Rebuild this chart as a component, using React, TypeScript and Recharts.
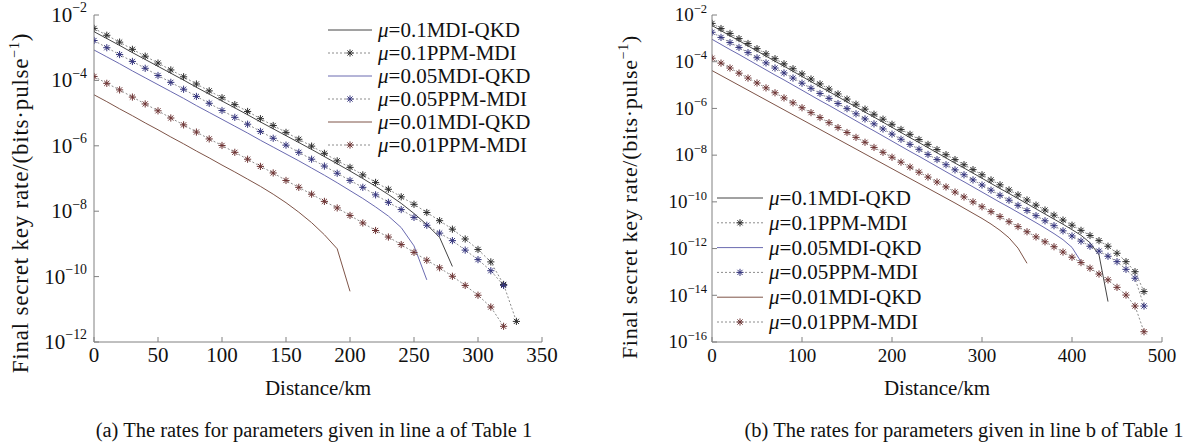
import React from "react";
import { LineChart, Line, XAxis, YAxis, Legend } from "recharts";

const FONT = '"Liberation Serif", "Times New Roman", serif';
const FRAME = "#808080";
const TICK = 5;

// distance grid, km (one point every 10 km)
const distA = [0, 10, 20, 30, 40, 50, 60, 70, 80, 90, 100, 110, 120, 130, 140, 150, 160, 170, 180, 190, 200, 210, 220, 230, 240, 250, 260, 270, 280, 290, 300, 310, 320, 330];
const distB = [0, 10, 20, 30, 40, 50, 60, 70, 80, 90, 100, 110, 120, 130, 140, 150, 160, 170, 180, 190, 200, 210, 220, 230, 240, 250, 260, 270, 280, 290, 300, 310, 320, 330, 340, 350, 360, 370, 380, 390, 400, 410, 420, 430, 440, 450, 460, 470, 480];

// as log10(rate), one per distance
const expA_mdi01 = [-2.51, -2.72, -2.93, -3.15, -3.36, -3.57, -3.78, -3.99, -4.21, -4.42, -4.63, -4.84, -5.05, -5.27, -5.48, -5.69, -5.9, -6.11, -6.33, -6.55, -6.77, -7.0, -7.24, -7.49, -7.76, -8.07, -8.41, -8.8, -9.69];
const expA_ppm01 = [-2.41, -2.62, -2.83, -3.05, -3.26, -3.47, -3.68, -3.89, -4.11, -4.32, -4.53, -4.74, -4.95, -5.17, -5.38, -5.59, -5.8, -6.01, -6.23, -6.46, -6.66, -6.89, -7.12, -7.33, -7.56, -7.79, -8.04, -8.29, -8.55, -8.85, -9.17, -9.55, -10.24, -11.37];
const expA_mdi005 = [-3.07, -3.28, -3.49, -3.71, -3.92, -4.13, -4.34, -4.55, -4.77, -4.98, -5.19, -5.4, -5.61, -5.83, -6.04, -6.25, -6.46, -6.68, -6.9, -7.13, -7.37, -7.61, -7.87, -8.15, -8.5, -9.06, -10.1];
const expA_ppm005 = [-2.78, -3.0, -3.21, -3.42, -3.63, -3.85, -4.06, -4.27, -4.49, -4.7, -4.92, -5.13, -5.34, -5.56, -5.77, -5.98, -6.2, -6.41, -6.62, -6.84, -7.06, -7.27, -7.5, -7.73, -7.95, -8.19, -8.43, -8.67, -8.9, -9.19, -9.48, -9.82, -10.27];
const expA_mdi001 = [-4.44, -4.65, -4.87, -5.08, -5.3, -5.51, -5.73, -5.94, -6.16, -6.37, -6.59, -6.8, -7.02, -7.24, -7.48, -7.74, -8.03, -8.35, -8.72, -9.15, -10.45];
const expA_ppm001 = [-3.88, -4.09, -4.29, -4.51, -4.72, -4.93, -5.15, -5.36, -5.58, -5.79, -5.99, -6.2, -6.41, -6.63, -6.83, -7.06, -7.27, -7.48, -7.7, -7.9, -8.13, -8.36, -8.59, -8.79, -9.02, -9.26, -9.5, -9.73, -9.99, -10.27, -10.57, -10.93, -11.52];

const expB_mdi01 = [-2.45, -2.67, -2.89, -3.1, -3.32, -3.54, -3.76, -3.98, -4.19, -4.41, -4.63, -4.85, -5.07, -5.28, -5.5, -5.72, -5.94, -6.16, -6.37, -6.59, -6.81, -7.03, -7.25, -7.46, -7.68, -7.9, -8.12, -8.34, -8.55, -8.77, -8.99, -9.21, -9.43, -9.64, -9.86, -10.08, -10.3, -10.52, -10.74, -10.96, -11.19, -11.43, -11.75, -12.27, -14.27];
const expB_ppm01 = [-2.36, -2.58, -2.79, -3.01, -3.22, -3.44, -3.66, -3.87, -4.09, -4.3, -4.52, -4.74, -4.95, -5.17, -5.38, -5.6, -5.82, -6.03, -6.25, -6.46, -6.68, -6.9, -7.11, -7.33, -7.54, -7.76, -7.98, -8.19, -8.41, -8.62, -8.84, -9.06, -9.27, -9.49, -9.7, -9.92, -10.14, -10.35, -10.57, -10.78, -11.0, -11.22, -11.44, -11.66, -11.9, -12.2, -12.56, -12.99, -13.84];
const expB_mdi005 = [-3.04, -3.26, -3.48, -3.69, -3.91, -4.13, -4.35, -4.57, -4.78, -5.0, -5.22, -5.44, -5.66, -5.87, -6.09, -6.31, -6.53, -6.75, -6.96, -7.18, -7.4, -7.62, -7.84, -8.05, -8.27, -8.49, -8.71, -8.93, -9.14, -9.36, -9.58, -9.8, -10.02, -10.23, -10.45, -10.67, -10.89, -11.12, -11.36, -11.62, -11.95, -12.56];
const expB_ppm005 = [-2.74, -2.96, -3.18, -3.39, -3.61, -3.83, -4.05, -4.27, -4.48, -4.7, -4.92, -5.14, -5.36, -5.57, -5.79, -6.01, -6.23, -6.45, -6.66, -6.88, -7.1, -7.32, -7.54, -7.75, -7.97, -8.19, -8.41, -8.63, -8.84, -9.06, -9.28, -9.5, -9.72, -9.93, -10.15, -10.37, -10.59, -10.81, -11.02, -11.24, -11.46, -11.68, -11.9, -12.11, -12.33, -12.56, -12.89, -13.27, -14.46];
const expB_mdi001 = [-4.38, -4.59, -4.8, -5.01, -5.22, -5.43, -5.64, -5.85, -6.06, -6.27, -6.48, -6.69, -6.9, -7.11, -7.32, -7.53, -7.74, -7.95, -8.16, -8.37, -8.58, -8.79, -9.0, -9.21, -9.42, -9.63, -9.84, -10.05, -10.27, -10.49, -10.71, -10.95, -11.22, -11.54, -11.98, -12.63];
const expB_ppm001 = [-3.85, -4.06, -4.27, -4.49, -4.7, -4.91, -5.12, -5.33, -5.55, -5.76, -5.97, -6.18, -6.39, -6.61, -6.82, -7.03, -7.24, -7.45, -7.67, -7.88, -8.09, -8.3, -8.51, -8.73, -8.94, -9.15, -9.36, -9.58, -9.79, -10.0, -10.21, -10.42, -10.63, -10.85, -11.06, -11.28, -11.5, -11.71, -11.92, -12.15, -12.37, -12.6, -12.84, -13.09, -13.34, -13.66, -13.99, -14.46, -15.56];

const xTicksA = [0, 50, 100, 150, 200, 250, 300, 350];
const xTicksB = [0, 100, 200, 300, 400, 500];
const yTicksA = [1e-12, 1e-10, 1e-8, 1e-6, 1e-4, 1e-2];
const yTicksB = [1e-16, 1e-14, 1e-12, 1e-10, 1e-8, 1e-6, 1e-4, 1e-2];

const mus = ["0.1", "0.1", "0.05", "0.05", "0.01", "0.01"];
const kinds = ["MDI-QKD", "PPM-MDI", "MDI-QKD", "PPM-MDI", "MDI-QKD", "PPM-MDI"];
const lineColors = ["#444444", "#8c8c8c", "#6a6ab0", "#8c8c8c", "#7e5448", "#8c8c8c"];
const starColors = ["", "#2e2e2e", "", "#35357e", "", "#6e3434"];

const makeSeries = (exps: number[][]) =>
  exps.map((e, i) => ({
    key: `s${i}`,
    mu: mus[i],
    kind: kinds[i],
    color: lineColors[i],
    star: starColors[i],
    exps: e,
  }));

const seriesA = makeSeries([expA_mdi01, expA_ppm01, expA_mdi005, expA_ppm005, expA_mdi001, expA_ppm001]);
const seriesB = makeSeries([expB_mdi01, expB_ppm01, expB_mdi005, expB_ppm005, expB_mdi001, expB_ppm001]);

const buildRows = (dist: number[], series: any[]) =>
  dist.map((d, i) => {
    const row: any = { d };
    series.forEach((s) => {
      row[s.key] = i < s.exps.length ? Math.pow(10, s.exps[i]) : undefined;
    });
    return row;
  });

const rowsA = buildRows(distA, seriesA);
const rowsB = buildRows(distB, seriesB);

const txt = (size: number, extra: React.CSSProperties = {}): React.CSSProperties => ({
  fontFamily: FONT,
  fontSize: size,
  ...extra,
});

const Star = ({ cx, cy, color, r = 3.6 }: any) => {
  const q = r * 0.72;
  return (
    <g stroke={color} strokeWidth={1} fill="none">
      <line x1={cx - r} y1={cy} x2={cx + r} y2={cy} />
      <line x1={cx} y1={cy - r} x2={cx} y2={cy + r} />
      <line x1={cx - q} y1={cy - q} x2={cx + q} y2={cy + q} />
      <line x1={cx - q} y1={cy + q} x2={cx + q} y2={cy - q} />
    </g>
  );
};

const starDot = (color: string) => (p: any) => {
  const { cx, cy, index } = p;
  if (cx == null || cy == null || isNaN(cy)) return <g key={`n${index}`} />;
  return (
    <g key={`d${index}`}>
      <Star cx={cx} cy={cy} color={color} />
    </g>
  );
};

const makeBottomTick = (fontSize: number) => ({ x, y, payload }: any) => (
  <g>
    <line x1={x} y1={y} x2={x} y2={y - TICK} stroke={FRAME} />
    <text x={x} y={y + 20} textAnchor="middle" fill="#111" style={txt(fontSize)}>
      {payload.value}
    </text>
  </g>
);

const TopTick = ({ x, y }: any) => <line x1={x} y1={y} x2={x} y2={y + TICK} stroke={FRAME} />;
const RightTick = ({ x, y }: any) => <line x1={x} y1={y} x2={x - TICK} y2={y} stroke={FRAME} />;

const makeLeftTick = (fontSize: number, gap: number) => ({ x, y, payload }: any) => {
  const e = Math.round(Math.log10(payload.value));
  return (
    <g>
      <line x1={x} y1={y} x2={x + TICK} y2={y} stroke={FRAME} />
      <text x={x - gap} y={y + fontSize * 0.33} textAnchor="end" fill="#111" style={txt(fontSize)}>
        10
        <tspan dy={-fontSize * 0.45} style={txt(fontSize * 0.66)}>{`\u2212${-e}`}</tspan>
      </text>
    </g>
  );
};

const YTitle = ({ tx, ty, size, spacing }: any) => (
  <text
    x={tx}
    y={ty}
    transform={`rotate(-90 ${tx} ${ty})`}
    textAnchor="middle"
    fill="#111"
    style={txt(size, { letterSpacing: spacing })}
  >
    Final secret key rate/(bits·pulse
    <tspan dy={-9} style={txt(14)}>{"\u22121"}</tspan>
    <tspan dy={9}>)</tspan>
  </text>
);

const XTitle = ({ tx, ty }: any) => (
  <text x={tx} y={ty} textAnchor="middle" fill="#111" style={txt(21)}>
    Distance/km
  </text>
);

const LegendBox = ({ series, rowGap, lineLen }: any) => (
  <svg width={240} height={rowGap * 6 + 12} style={{ display: "block" }}>
    {series.map((s: any, i: number) => {
      const cy = 12 + i * rowGap;
      return (
        <g key={s.key}>
          <line
            x1={2}
            y1={cy}
            x2={2 + lineLen}
            y2={cy}
            stroke={s.color}
            strokeDasharray={s.star ? "2 2" : undefined}
          />
          {s.star && <Star cx={2 + lineLen / 2} cy={cy} color={s.star} />}
          <text x={lineLen + 8} y={cy + 7} fill="#111" style={txt(21)}>
            <tspan style={{ fontStyle: "italic" }}>μ</tspan>
            {`=${s.mu}${s.kind}`}
          </text>
        </g>
      );
    })}
  </svg>
);

const Panel = (props: any) => {
  const {
    rows, series, width, yAxisW, right, xMax, xTicks, yMin, yTicks,
    tickFont, tickGap, legendLeft, legendTop, rowGap, lineLen, titleX, titleY, titleSize, titleSpacing,
  } = props;
  const plotRight = width - right;
  const xCenter = (yAxisW + plotRight) / 2;
  return (
    <LineChart width={width} height={448} data={rows} margin={{ top: 15, right, bottom: 76, left: 0 }}>
      <XAxis
        dataKey="d"
        type="number"
        domain={[0, xMax]}
        ticks={xTicks}
        interval={0}
        allowDataOverflow
        height={30}
        tickSize={0}
        tickMargin={0}
        tick={makeBottomTick(tickFont)}
        axisLine={{ stroke: FRAME }}
        label={<XTitle tx={xCenter} ty={395} />}
      />
      <XAxis
        xAxisId="t"
        orientation="top"
        dataKey="d"
        type="number"
        domain={[0, xMax]}
        ticks={xTicks}
        interval={0}
        allowDataOverflow
        height={0}
        tickSize={0}
        tickMargin={0}
        tick={TopTick}
        axisLine={{ stroke: FRAME }}
      />
      <YAxis
        type="number"
        scale="log"
        domain={[yMin, 1e-2]}
        ticks={yTicks}
        interval={0}
        allowDataOverflow
        width={yAxisW}
        tickSize={0}
        tickMargin={0}
        tick={makeLeftTick(tickFont, tickGap)}
        axisLine={{ stroke: FRAME }}
        label={<YTitle tx={titleX} ty={titleY} size={titleSize} spacing={titleSpacing} />}
      />
      <YAxis
        yAxisId="r"
        orientation="right"
        type="number"
        scale="log"
        domain={[yMin, 1e-2]}
        ticks={yTicks}
        interval={0}
        allowDataOverflow
        width={0}
        tickSize={0}
        tickMargin={0}
        tick={RightTick}
        axisLine={{ stroke: FRAME }}
      />
      <Legend
        layout="vertical"
        align="center"
        verticalAlign="middle"
        wrapperStyle={{ left: legendLeft, top: legendTop, width: 240 }}
        content={() => <LegendBox series={series} rowGap={rowGap} lineLen={lineLen} />}
      />
      {series
        .filter((s: any) => !s.star)
        .map((s: any) => (
          <Line
            key={s.key}
            dataKey={s.key}
            stroke={s.color}
            strokeWidth={1}
            dot={false}
            activeDot={false}
            isAnimationActive={false}
            legendType="none"
          />
        ))}
      {series
        .filter((s: any) => s.star)
        .map((s: any) => (
          <Line
            key={s.key}
            dataKey={s.key}
            stroke={s.color}
            strokeWidth={1}
            strokeDasharray="2 2"
            dot={starDot(s.star)}
            activeDot={false}
            isAnimationActive={false}
            legendType="none"
          />
        ))}
    </LineChart>
  );
};

const captionStyle: React.CSSProperties = {
  position: "absolute",
  top: 419,
  fontFamily: FONT,
  fontSize: 20.5,
  color: "#111",
  whiteSpace: "nowrap",
  transform: "translateX(-50%)",
};

export default function App() {
  return (
    <div style={{ position: "absolute", left: 0, top: 0, width: 1192, height: 448, background: "#fff", overflow: "hidden" }}>
      <div style={{ position: "absolute", left: 0, top: 0 }}>
        <Panel
          rows={rowsA}
          series={seriesA}
          width={560}
          yAxisW={94}
          right={18}
          xMax={350}
          xTicks={xTicksA}
          yMin={1e-12}
          yTicks={yTicksA}
          tickFont={21}
          tickGap={7}
          legendLeft={326}
          legendTop={18}
          rowGap={23}
          lineLen={44}
          titleX={28}
          titleY={203}
          titleSize={23}
          titleSpacing={0.8}
        />
      </div>
      <div style={{ position: "absolute", left: 600, top: 0 }}>
        <Panel
          rows={rowsB}
          series={seriesB}
          width={592}
          yAxisW={112}
          right={30}
          xMax={500}
          xTicks={xTicksB}
          yMin={1e-16}
          yTicks={yTicksB}
          tickFont={19}
          tickGap={5}
          legendLeft={115}
          legendTop={186}
          rowGap={24.8}
          lineLen={46}
          titleX={37}
          titleY={197}
          titleSize={22}
          titleSpacing={0.7}
        />
      </div>
      <div style={{ ...captionStyle, left: 314 }}>(a) The rates for parameters given in line a of Table 1</div>
      <div style={{ ...captionStyle, left: 964 }}>(b) The rates for parameters given in line b of Table 1</div>
    </div>
  );
}
